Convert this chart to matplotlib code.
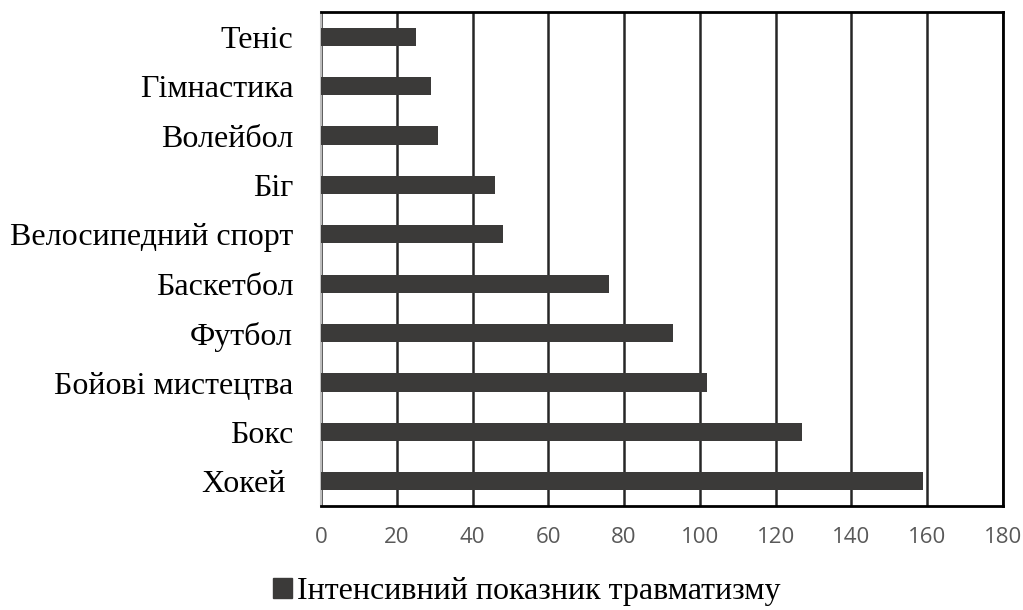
import matplotlib
matplotlib.use("Agg")
from matplotlib import pyplot as plt
from matplotlib.patches import Patch

# data
sports = ["Хокей ", "Бокс", "Бойові мистецтва", "Футбол", "Баскетбол",
          "Велосипедний спорт", "Біг", "Волейбол", "Гімнастика", "Теніс"]
injury_rate = [159, 127, 102, 93, 76, 48, 46, 31, 29, 25]
x_ticks = [0, 20, 40, 60, 80, 100, 120, 140, 160, 180]
legend_label = "Інтенсивний показник травматизму"

bar_color = "#3b3a39"

fig = plt.figure(figsize=(10.23, 6.10), dpi=100)
ax = fig.add_axes([0.3138, 0.1705, 0.6666, 0.8098])

ax.barh(range(len(sports)), injury_rate, height=0.37, color=bar_color, zorder=3)

ax.set_xlim(0, 180)
ax.set_ylim(-0.5, len(sports) - 0.5)
ax.set_xticks(x_ticks)
ax.set_xticklabels([str(t) for t in x_ticks], fontsize=16, color="#595959",
                   family="Open Sans")
ax.set_yticks(range(len(sports)))
ax.set_yticklabels(sports, fontsize=23, family="Liberation Serif", color="black")
ax.tick_params(axis="x", length=0, pad=15)
ax.tick_params(axis="y", length=0, pad=20)

ax.xaxis.grid(True, color="#262626", linewidth=1.8, zorder=1)

for side in ["top", "right", "bottom"]:
    ax.spines[side].set_color("black")
    ax.spines[side].set_linewidth(2)
ax.spines["left"].set_color("#bfbfbf")
ax.spines["left"].set_linewidth(1.5)

handle = Patch(facecolor=bar_color, edgecolor=bar_color)
fig.legend([handle], [legend_label], loc="center", bbox_to_anchor=(0.515, 0.03),
           frameon=False, prop={"family": "Liberation Serif", "size": 23},
           handlelength=0.6, handleheight=0.6, handletextpad=0.15,
           borderpad=0.1)

fig.savefig("out.png", dpi=100)
